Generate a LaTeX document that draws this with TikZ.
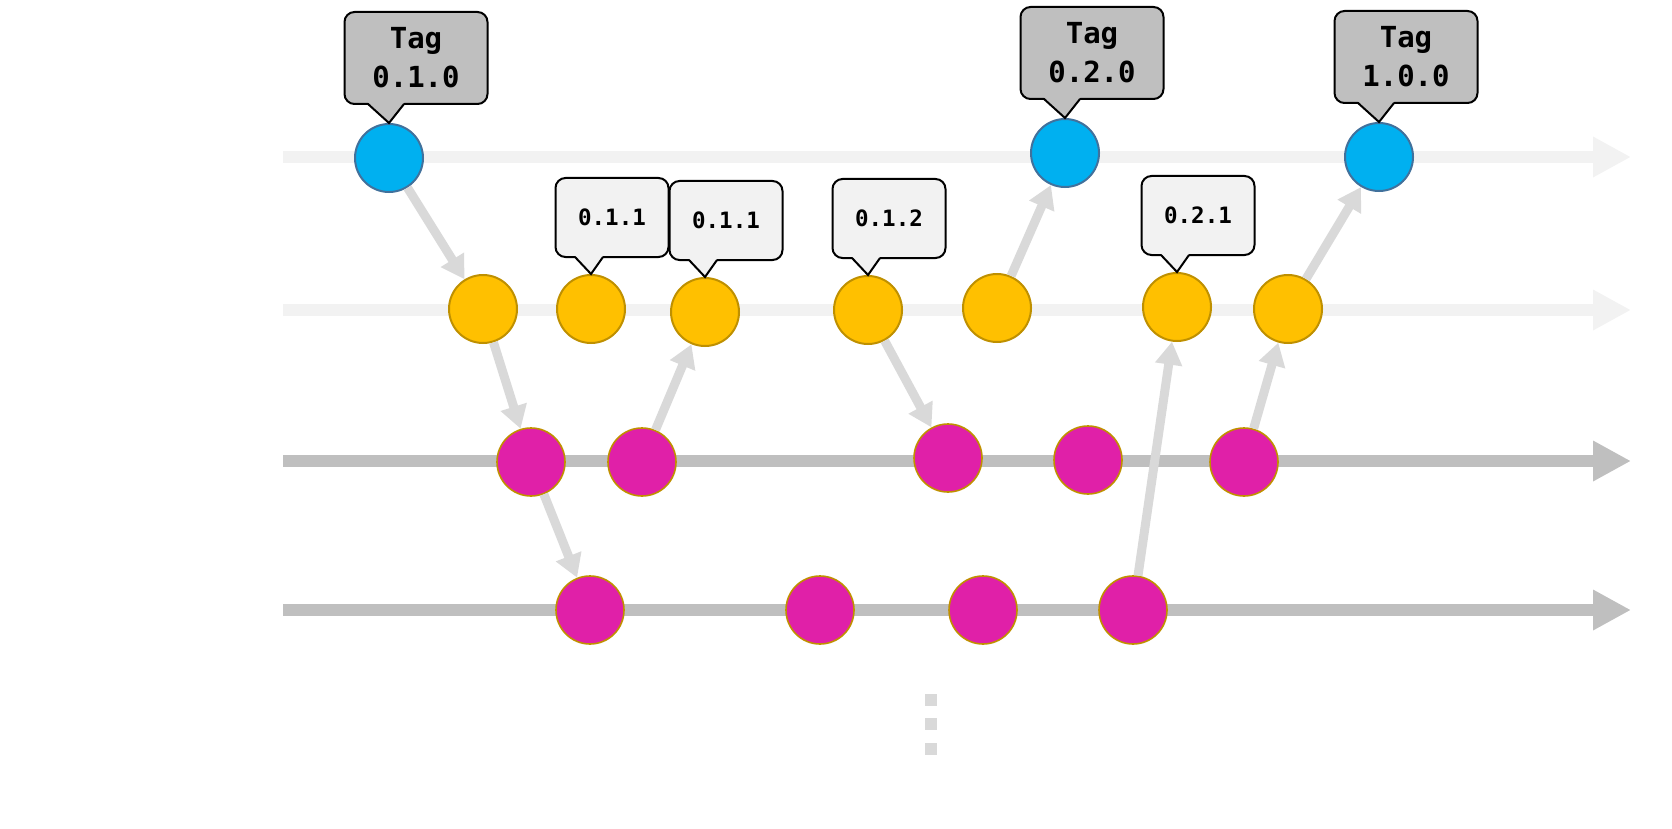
\documentclass[tikz,border=0pt]{standalone}
\usepackage{fontspec}
\setmonofont{DejaVu Sans Mono}
\usetikzlibrary{arrows.meta,calc}

\definecolor{laneLight}{HTML}{F2F2F2}
\definecolor{laneDark}{HTML}{BFBFBF}
\definecolor{linkGray}{HTML}{D9D9D9}
\definecolor{masterFill}{HTML}{00B0F0}
\definecolor{masterLine}{HTML}{41719C}
\definecolor{releaseFill}{HTML}{FFC000}
\definecolor{releaseLine}{HTML}{BF9000}
\definecolor{featureFill}{HTML}{E020A8}
\definecolor{featureLine}{HTML}{C09000}
\definecolor{tagFill}{HTML}{BFBFBF}
\definecolor{verFill}{HTML}{F2F2F2}

\newcommand{\callptr}[5]{%
  \fill[#3] ($(#1.south -| #2.north)+(-#4-1,-3.5)$) -- (#2.north) -- ($(#1.south -| #2.north)+(#5+1,-3.5)$) -- cycle;
  \draw[line width=2pt, line join=miter] ($(#1.south -| #2.north)+(-#4,-1)$) -- (#2.north) -- ($(#1.south -| #2.north)+(#5,-1)$);}

\begin{document}
\begin{tikzpicture}[x=1pt, y=-1pt,
  commit/.style={circle, draw, line width=2pt, minimum size=68pt, inner sep=0pt},
  master/.style={commit, fill=masterFill, draw=masterLine},
  release/.style={commit, fill=releaseFill, draw=releaseLine},
  feature/.style={commit, fill=featureFill, draw=featureLine, line width=1.6pt},
  lane/.style={line width=12pt, -{Triangle[width=38pt, length=38pt]}},
  merge/.style={draw=linkGray, line width=9pt, -{Triangle[width=26pt, length=23pt]}},
  tagbox/.style={rectangle, rounded corners=10pt, draw, line width=2pt, fill=tagFill, minimum width=143pt, minimum height=92pt, inner sep=0pt, align=center, font=\fontsize{29}{39}\selectfont\ttfamily\bfseries},
  verbox/.style={rectangle, rounded corners=10pt, draw, line width=2pt, fill=verFill, minimum width=113pt, minimum height=79pt, inner sep=0pt, align=center, font=\fontsize{22.5}{27}\selectfont\ttfamily\bfseries}]

  \useasboundingbox (0,0) rectangle (1672,829);

  \foreach \ly/\lc [count=\i] in {157/laneLight, 310/laneLight, 461/laneDark, 610/laneDark} {
    \coordinate (s\i) at (283,\ly);
    \coordinate (e\i) at (1631,\ly);
    \draw[lane, draw=\lc] (s\i) -- (e\i);
  }

  \node[master] (m1) at (389,158) {};
  \node[master] (m2) at (1065,153) {};
  \node[master] (m3) at (1379,157) {};

  \node[release] (r1) at (483,309) {};
  \node[release] (r2) at (591,309) {};
  \node[release] (r3) at (705,312) {};
  \node[release] (r4) at (868,310) {};
  \node[release] (r5) at (997,308) {};
  \node[release] (r6) at (1177,307) {};
  \node[release] (r7) at (1288,309) {};

  \node[feature] (f1) at (531,462) {};
  \node[feature] (f2) at (642,462) {};
  \node[feature] (f3) at (948,458) {};
  \node[feature] (f4) at (1088,460) {};
  \node[feature] (f5) at (1244,462) {};

  \node[feature] (g1) at (590,610) {};
  \node[feature] (g2) at (820,610) {};
  \node[feature] (g3) at (983,610) {};
  \node[feature] (g4) at (1133,610) {};

  \draw[merge] (m1) -- (r1);
  \draw[merge] (r1) -- (f1);
  \draw[merge] (f1) -- (g1);
  \draw[merge] (f2) -- (r3);
  \draw[merge] (r4) -- (f3);
  \draw[merge] (r5) -- (m2);
  \draw[merge] (g4) -- (r6);
  \draw[merge] (f5) -- (r7);
  \draw[merge] (r7) -- (m3);

  % tags on the master line
  \node[tagbox, anchor=south, xshift=27pt, yshift=18pt] (t1) at (m1.north) {Tag\\0.1.0};
  \node[tagbox, anchor=south, xshift=27pt, yshift=18pt] (t2) at (m2.north) {Tag\\0.2.0};
  \node[tagbox, anchor=south, xshift=27pt, yshift=18pt] (t3) at (m3.north) {Tag\\1.0.0};
  \callptr{t1}{m1}{tagFill}{21}{15}
  \callptr{t2}{m2}{tagFill}{21}{15}
  \callptr{t3}{m3}{tagFill}{21}{15}

  % version labels
  \node[verbox, anchor=south, xshift=21pt, yshift=16pt] (v1) at (r2.north) {0.1.1};
  \node[verbox, anchor=south, xshift=21pt, yshift=16pt] (v2) at (r3.north) {0.1.1};
  \node[verbox, anchor=south, xshift=21pt, yshift=16pt] (v3) at (r4.north) {0.1.2};
  \node[verbox, anchor=south, xshift=21pt, yshift=16pt] (v4) at (r6.north) {0.2.1};
  \callptr{v1}{r2}{verFill}{16}{12}
  \callptr{v2}{r3}{verFill}{16}{12}
  \callptr{v3}{r4}{verFill}{16}{12}
  \callptr{v4}{r6}{verFill}{16}{12}

  \foreach \dy in {700,724,749}
    \fill[linkGray] (925,\dy-6) rectangle (937,\dy+6);

\end{tikzpicture}
\end{document}
